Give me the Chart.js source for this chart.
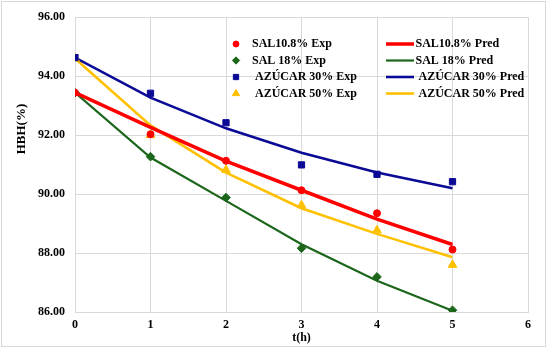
<!DOCTYPE html>
<html>
<head>
<meta charset="utf-8">
<script src="https://cdn.jsdelivr.net/npm/chart.js@4/dist/chart.umd.min.js"></script>
<style>
  html, body { margin: 0; padding: 0; background: #fff; }
  #wrap { width: 547px; height: 348px; position: relative; }
</style>
</head>
<body>
<div id="wrap"><canvas id="c" width="547" height="348"></canvas></div>
<script>
// ---- data ----
const tHours = [0, 1, 2, 3, 4, 5];
const sal108Exp  = [93.44, 92.03, 91.13, 90.13, 89.35, 88.12];
const sal108Pred = [93.44, 92.26, 91.12, 90.13, 89.15, 88.29];
const sal18Exp   = [93.44, 91.27, 89.88, 88.16, 87.19, 86.06];
const sal18Pred  = [93.44, 91.24, 89.77, 88.30, 87.06, 86.04];
const azu30Exp   = [94.63, 93.42, 92.42, 90.99, 90.67, 90.42];
const azu30Pred  = [94.63, 93.27, 92.23, 91.40, 90.73, 90.20];
const azu50Exp   = [94.60, 92.00, 90.82, 89.62, 88.77, 87.60];
const azu50Pred  = [94.60, 92.33, 90.73, 89.52, 88.65, 87.86];
const expLabels  = ['SAL10.8% Exp', 'SAL 18% Exp', ' AZÚCAR 30% Exp', ' AZÚCAR 50% Exp'];
const predLabels = ['SAL10.8% Pred', 'SAL 18% Pred', ' AZÚCAR 30% Pred', ' AZÚCAR 50% Pred'];
const xTitle = 't(h)';
const yTitle = 'HBH(%)';

const RED = '#FF0000', GREEN = '#1B661B', BLUE = '#0A0A96', YELLOW = '#FFC000';
const FONT = '"Liberation Serif", "Times New Roman", serif';

const pts = ys => tHours.map((x, i) => ({ x: x, y: ys[i] }));

const expStyles = [
  { c: RED, s: 'circle', r: 3.5 },
  { c: GREEN, s: 'rectRot', r: 4.3 },
  { c: BLUE, s: 'rect', r: 4.4 },
  { c: YELLOW, s: 'triangle', r: 5 }
];
const predStyles = [
  { c: RED, w: 3.5 },
  { c: GREEN, w: 2.2 },
  { c: BLUE, w: 2.6 },
  { c: YELLOW, w: 2.6 }
];
const expSeries = [sal108Exp, sal18Exp, azu30Exp, azu50Exp];
const predSeries = [sal108Pred, sal18Pred, azu30Pred, azu50Pred];

const datasets = [];
expSeries.forEach((s, i) => {
  datasets.push({
    label: expLabels[i], data: pts(s), showLine: false,
    pointStyle: expStyles[i].s, pointRadius: expStyles[i].r,
    pointBackgroundColor: expStyles[i].c, pointBorderColor: expStyles[i].c,
    pointBorderWidth: 1, backgroundColor: expStyles[i].c, borderColor: expStyles[i].c,
    legendKind: 'exp', legendRow: i, order: 1
  });
});
predSeries.forEach((s, i) => {
  datasets.push({
    label: predLabels[i], data: pts(s), showLine: true, tension: 0,
    borderColor: predStyles[i].c, borderWidth: predStyles[i].w,
    pointRadius: 0, fill: false,
    legendKind: 'pred', legendRow: i, order: 2
  });
});

const decor = {
  id: 'decor',
  beforeDraw(chart) {
    const ctx = chart.ctx;
    ctx.save();
    ctx.fillStyle = '#fff';
    ctx.fillRect(0, 0, chart.width, chart.height);
    ctx.strokeStyle = '#d9d9d9';
    ctx.lineWidth = 1;
    ctx.strokeRect(1.5, 1.5, chart.width - 3, chart.height - 3);
    ctx.restore();
  },
  afterDraw(chart) {
    const ctx = chart.ctx;
    const ca = chart.chartArea;
    ctx.save();
    ctx.font = 'bold 12px ' + FONT;
    ctx.textBaseline = 'middle';
    // legend
    const rowY = [44, 60.5, 77, 93.5];
    chart.data.datasets.forEach(ds => {
      const y = rowY[ds.legendRow];
      if (ds.legendKind === 'exp') {
        const st = expStyles[ds.legendRow];
        ctx.fillStyle = st.c; ctx.strokeStyle = st.c; ctx.lineWidth = 1;
        Chart.helpers.drawPoint(ctx, { pointStyle: st.s, radius: st.r * 0.85, borderWidth: 1, rotation: 0 }, 236, y);
        ctx.fillStyle = '#000';
        ctx.textAlign = 'left';
        ctx.fillText(ds.label, 252, y);
      } else {
        ctx.strokeStyle = ds.borderColor;
        ctx.lineWidth = ds.borderWidth;
        ctx.beginPath(); ctx.moveTo(386, y); ctx.lineTo(414, y); ctx.stroke();
        ctx.fillStyle = '#000';
        ctx.textAlign = 'left';
        ctx.fillText(ds.label, 415.5, y);
      }
    });
    // axis titles
    ctx.fillStyle = '#000';
    ctx.textAlign = 'center';
    ctx.font = 'bold 12px ' + FONT;
    ctx.fillText(xTitle, (ca.left + ca.right) / 2, 338);
    ctx.save();
    ctx.translate(22, 129);
    ctx.rotate(-Math.PI / 2);
    ctx.font = 'bold 13px ' + FONT;
    ctx.fillText(yTitle, 0, 0);
    ctx.restore();
    ctx.restore();
  }
};

new Chart(document.getElementById('c'), {
  type: 'scatter',
  data: { datasets: datasets },
  options: {
    responsive: false,
    animation: false,
    devicePixelRatio: 1,
    layout: { padding: { left: 0, right: 19, top: 17, bottom: 0 } },
    plugins: { legend: { display: false }, tooltip: { enabled: false } },
    scales: {
      x: {
        type: 'linear', min: 0, max: 6,
        afterFit: s => { s.height = 36; },
        ticks: { stepSize: 1, padding: 6, color: '#000', font: { family: FONT, size: 12, weight: 'bold' } },
        grid: { color: '#d9d9d9', lineWidth: 1, drawTicks: false },
        border: { color: '#d9d9d9', width: 1 }
      },
      y: {
        type: 'linear', min: 86, max: 96,
        afterFit: s => { s.width = 75; },
        ticks: { stepSize: 2, padding: 10, color: '#000',
          callback: v => Number(v).toFixed(2),
          font: { family: FONT, size: 12, weight: 'bold' } },
        grid: { color: '#d9d9d9', lineWidth: 1, drawTicks: false },
        border: { color: '#d9d9d9', width: 1 }
      }
    }
  },
  plugins: [decor]
});
</script>
</body>
</html>
